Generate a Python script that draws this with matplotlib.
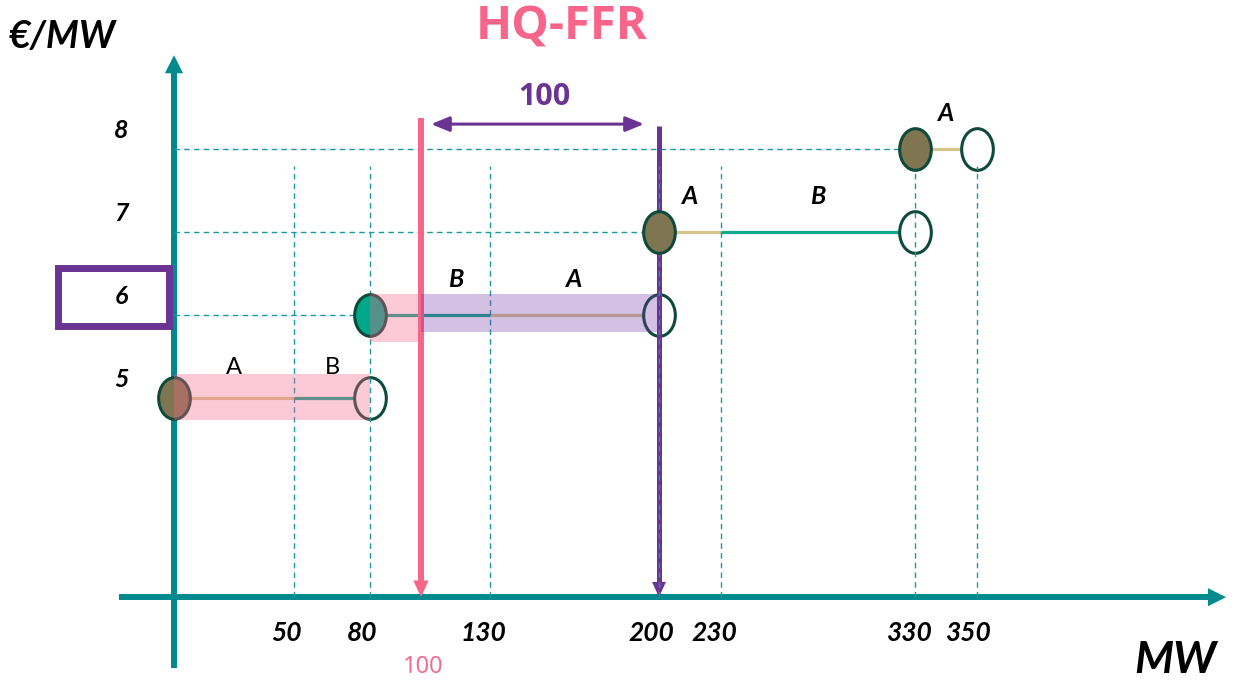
import numpy as np
import matplotlib
matplotlib.use("Agg")
import matplotlib.pyplot as plt
from matplotlib.path import Path
from matplotlib.markers import MarkerStyle
from matplotlib.transforms import Affine2D
from matplotlib.patches import Rectangle, FancyArrowPatch

# ---------------- data ----------------
prices = [5, 6, 7, 8]
seg_start = [0, 50, 80, 130, 200, 230, 330]
seg_end = [50, 80, 130, 200, 230, 330, 350]
seg_price = [5, 5, 6, 6, 7, 7, 8]
seg_owner = ["A", "B", "B", "A", "A", "B", "A"]
mw_ticks = [50, 80, 130, 200, 230, 330, 350]
ffr_volume = 100
cleared_volume = 200
clearing_price = 6
title = "HQ-FFR"

# ---------------- style ----------------
TEAL_AXIS = "#00898E"
TEAL_DASH = "#1A9AA0"
PURPLE = "#6B3393"
PINK = "#F7668A"
EDGE = "#0E4A3C"
fill_col = {"A": "#7F7550", "B": "#00A88A"}
line_col = {"A": "#D8C58E", "B": "#12A88C"}
LABEL_FONT = ["Lato", "DejaVu Sans"]
TITLE_FONT = ["Open Sans", "DejaVu Sans"]

# the MW axis is drawn schematically (not to scale): piecewise-linear scale
knot_mw = np.array([-100, 0, 50, 80, 100, 130, 200, 230, 330, 350, 500], float)
knot_u = np.array([-66, 174, 294, 370, 421, 490, 659, 721, 915, 977, 1427], float)


def fwd(x):
    return np.interp(x, knot_mw, knot_u)


def inv(u):
    return np.interp(u, knot_u, knot_mw)


W, H, DPI = 1242, 684, 100
fig = plt.figure(figsize=(W / DPI, H / DPI), dpi=DPI)
ax = fig.add_axes([0, 0, 1, 1])
ax.set_xscale("function", functions=(fwd, inv))
ax.set_xlim(inv(0), inv(W))
ax.set_ylim(5 - 286 / 83, 8 + 149 / 83)
ax.axis("off")

x_axis_y = 2.6
y_lo, y_hi = 1.75, 9.13
x_lo, x_hi = -23, 433

# axes drawn as arrows
ax.plot([0, 0], [y_lo, y_hi - 0.2], color=TEAL_AXIS, lw=4.3, zorder=1,
        solid_capstyle="butt")
ax.add_patch(FancyArrowPatch((0, y_hi - 0.3), (0, y_hi), arrowstyle="-|>,head_length=13,head_width=6.5",
                             mutation_scale=1, color=TEAL_AXIS, lw=0, zorder=1,
                             shrinkA=0, shrinkB=0))
ax.plot([x_lo, x_hi - 5], [x_axis_y, x_axis_y], color=TEAL_AXIS, lw=4.3, zorder=1,
        solid_capstyle="butt")
ax.add_patch(FancyArrowPatch((x_hi - 8, x_axis_y), (x_hi, x_axis_y),
                             arrowstyle="-|>,head_length=13,head_width=6.5",
                             mutation_scale=1, color=TEAL_AXIS, lw=0, zorder=1,
                             shrinkA=0, shrinkB=0))

# price levels: start / end of each step
levels = []
for p in prices:
    idx = [i for i, sp in enumerate(seg_price) if sp == p]
    levels.append((p, seg_start[idx[0]], seg_end[idx[-1]], seg_owner[idx[0]]))

# horizontal dashed guides from the price axis to the start of each step
for p, x0, x1, own in levels:
    if x0 > 0:
        ax.plot([0, x0], [p, p], ls=(0, (4, 3)), color=TEAL_DASH, lw=1.0, zorder=1.5)

# vertical dashed guides at the MW breakpoints
for t in mw_ticks:
    ax.plot([t, t], [x_axis_y, 7.8], ls=(0, (4, 3)), color=TEAL_DASH, lw=1.0, zorder=7)

# bid segments
for s, e, p, o in zip(seg_start, seg_end, seg_price, seg_owner):
    ax.plot([s, e], [p, p], color=line_col[o], lw=2.3, zorder=2,
            solid_capstyle="butt")

# segment labels (centred on the part of the segment right of the requirement line)
for s, e, p, o in zip(seg_start, seg_end, seg_price, seg_owner):
    s_vis = ffr_volume if s < ffr_volume < e else s
    xm = 0.5 * (fwd(s_vis) + fwd(e))
    if p == prices[0]:
        ax.text(inv(xm), p + 0.37, o, ha="center", va="center", fontsize=17,
                family=LABEL_FONT, zorder=10)
    else:
        ax.text(inv(xm), p + 0.43, o, ha="center", va="center", fontsize=18,
                family=LABEL_FONT, fontweight="bold", fontstyle="italic", zorder=10)

# elliptical markers
ell = MarkerStyle(Path.unit_circle().transformed(Affine2D().scale(0.76, 1.0)))
for p, x0, x1, own in levels:
    ax.plot([x1], [p], marker=ell, ms=30, mfc="white", mec=EDGE, mew=2.2,
            ls="none", zorder=3)
    ax.plot([x0], [p], marker=ell, ms=30, mfc=fill_col[own], mec=EDGE, mew=2.2,
            ls="none", zorder=8)

# accepted volume bands (translucent overlays)
acc5 = [l for l in levels if l[0] == prices[0]][0]
ax.add_patch(Rectangle((acc5[1], acc5[0] - 0.265), acc5[2] - acc5[1], 0.555,
                       facecolor=PINK, alpha=0.35, lw=0, zorder=9))
acc6 = [l for l in levels if l[0] == clearing_price][0]
ax.add_patch(Rectangle((acc6[1], clearing_price - 0.325), ffr_volume - acc6[1], 0.58,
                       facecolor=PINK, alpha=0.35, lw=0, zorder=9))
ax.add_patch(Rectangle((ffr_volume, clearing_price - 0.205), cleared_volume - ffr_volume, 0.46,
                       facecolor="#7030A0", alpha=0.3, lw=0, zorder=9))

# requirement and clearing volume markers
ax.plot([ffr_volume, ffr_volume], [8.373, x_axis_y + 0.15], color=PINK, lw=4.3,
        zorder=6, solid_capstyle="butt")
ax.add_patch(FancyArrowPatch((ffr_volume, x_axis_y + 0.25), (ffr_volume, x_axis_y),
                             arrowstyle="-|>,head_length=12,head_width=5.5",
                             mutation_scale=1, color=PINK, lw=0, zorder=6,
                             shrinkA=0, shrinkB=0))
ax.plot([cleared_volume, cleared_volume], [8.277, x_axis_y + 0.15], color=PURPLE, lw=3.6,
        zorder=6, solid_capstyle="butt")
ax.add_patch(FancyArrowPatch((cleared_volume, x_axis_y + 0.25), (cleared_volume, x_axis_y),
                             arrowstyle="-|>,head_length=11,head_width=5",
                             mutation_scale=1, color=PURPLE, lw=0, zorder=6,
                             shrinkA=0, shrinkB=0))

# span between requirement and clearing volume
ax.add_patch(FancyArrowPatch((inv(431), 8.30), (inv(644), 8.30),
                             arrowstyle="<|-|>,head_length=11,head_width=4.5",
                             mutation_scale=1, color=PURPLE, lw=2.2, zorder=6,
                             shrinkA=0, shrinkB=0))
ax.text(inv(0.5 * (fwd(ffr_volume) + fwd(cleared_volume))) + 2, 8.63,
        f"{cleared_volume - ffr_volume}", ha="center", va="center", fontsize=22,
        fontweight="bold", color=PURPLE, family=TITLE_FONT)

# axis tick labels
for t in mw_ticks:
    ax.text(t - 3, 2.17, f"{t}", ha="center", va="center", fontsize=19,
            fontweight="bold", fontstyle="italic", family=LABEL_FONT)
ax.text(ffr_volume + 1, 1.76, f"{ffr_volume}", ha="center", va="center", fontsize=17,
        color=PINK, family=TITLE_FONT)
for p in prices:
    ax.text(-22, p + 0.22, f"{p}", ha="center", va="center", fontsize=18,
            fontweight="bold", fontstyle="italic", family=LABEL_FONT)

# highlighted clearing price
ax.add_patch(Rectangle((inv(58), clearing_price - 0.13), inv(169) - inv(58), 0.7,
                       facecolor="none", edgecolor=PURPLE, lw=5, zorder=5))

# titles
fig.text(62 / W, 1 - 36 / H, "€/MW", ha="center", va="center", fontsize=27,
         fontweight="bold", fontstyle="italic", family=LABEL_FONT)
fig.text(1175 / W, 1 - 660 / H, "MW", ha="center", va="center", fontsize=32,
         fontweight="bold", fontstyle="italic", family=LABEL_FONT)
fig.text(562 / W, 1 - 27 / H, title, ha="center", va="center", fontsize=34,
         fontweight="bold", color=PINK, family=TITLE_FONT)

fig.savefig("out.png", dpi=DPI)
